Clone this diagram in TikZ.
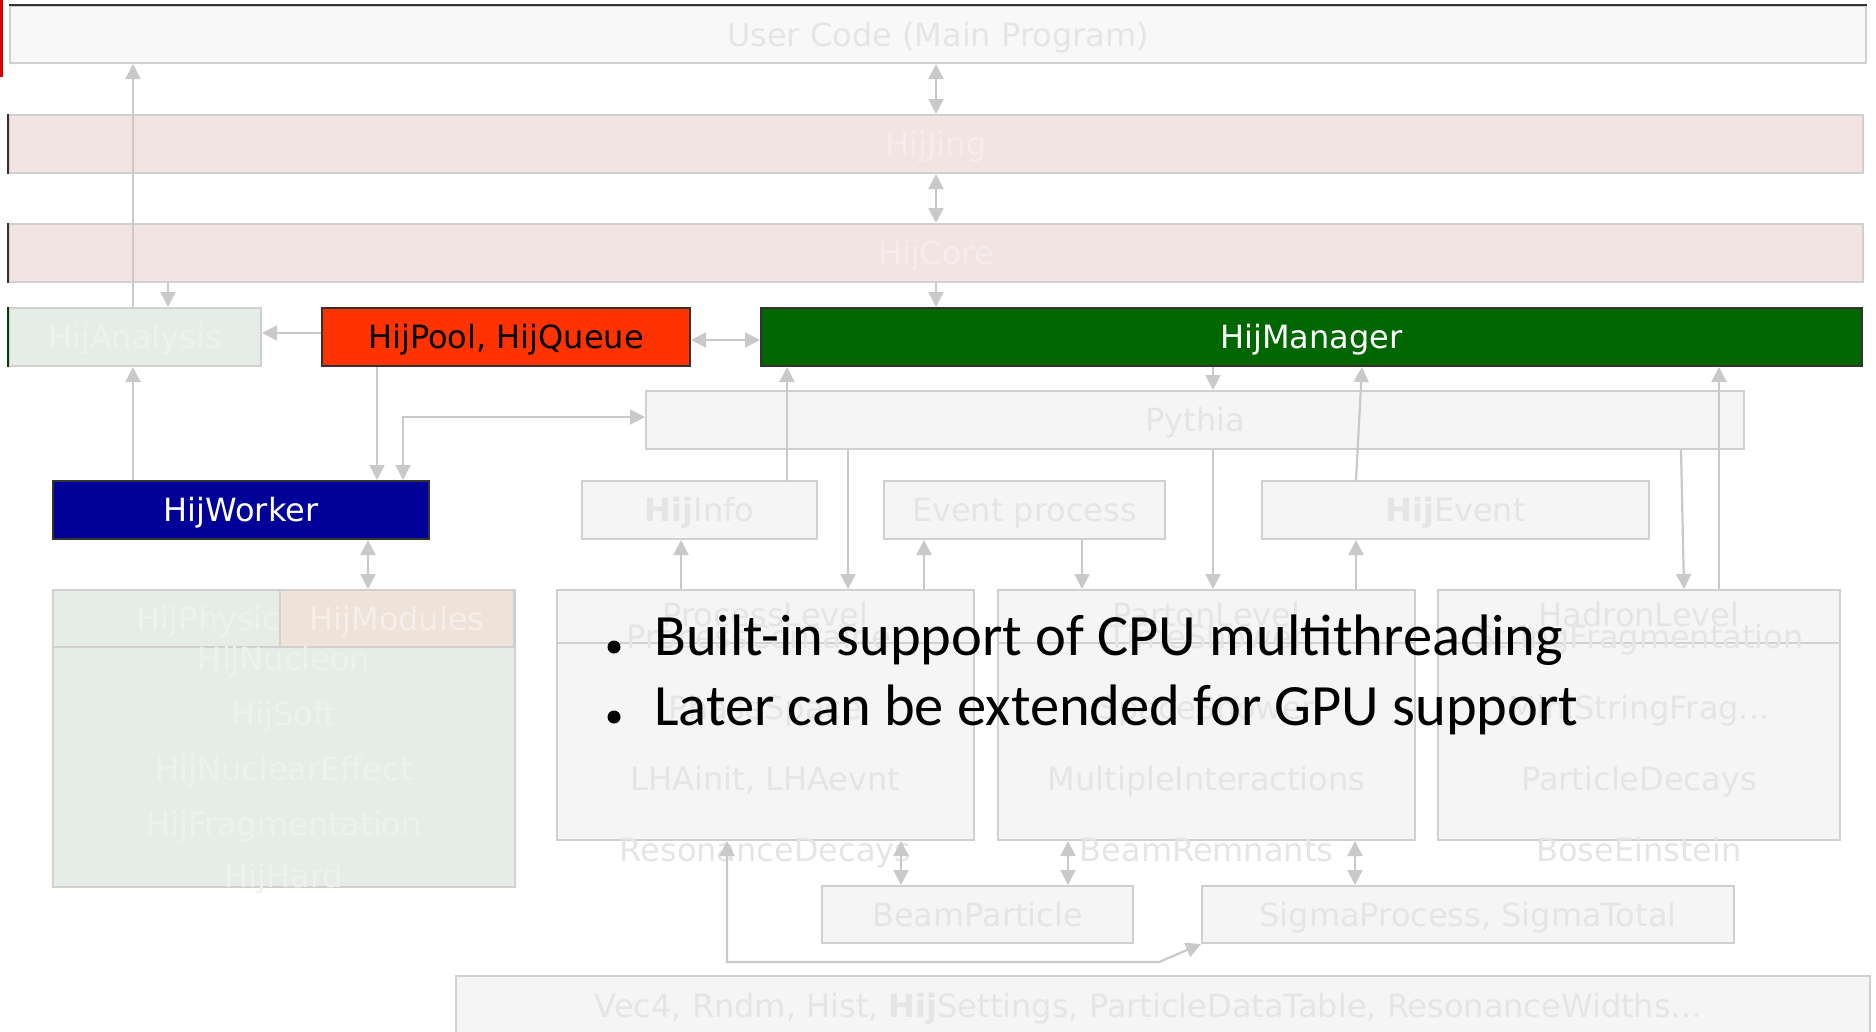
\documentclass[tikz,border=0pt]{standalone}
\usepackage{fontspec}
\setmainfont{DejaVu Sans}
\newfontfamily\calib{Carlito}
\usetikzlibrary{arrows.meta}
\definecolor{bdr}{HTML}{D0D0D0}
\definecolor{fgray}{HTML}{F5F5F5}
\definecolor{fuser}{HTML}{F8F8F8}
\definecolor{tgray}{HTML}{E5E5E5}
\definecolor{fpink}{HTML}{F2E4E3}
\definecolor{tpink}{HTML}{F6ECEB}
\definecolor{fgreen}{HTML}{E5EDE6}
\definecolor{tgreen}{HTML}{ECF2ED}
\definecolor{fpeach}{HTML}{EFE2D9}
\definecolor{tpeach}{HTML}{F6EEE8}
\definecolor{acol}{HTML}{C9C9C9}
\definecolor{dk}{HTML}{333333}
\definecolor{poolred}{HTML}{FF3300}
\definecolor{mgrgreen}{HTML}{006600}
\definecolor{wkblue}{HTML}{000099}
\begin{document}
\begin{tikzpicture}[x=1pt,y=-1pt,
  box/.style={draw=bdr, line width=2pt, inner sep=0pt, text height=23pt, text depth=0pt, font=\fontsize{32}{38}\selectfont},
  fbox/.style={box, fill=fgray, text=tgray},
  dbox/.style={box, draw=dk},
  lbl/.style={inner sep=0pt, anchor=base, font=\fontsize{32}{38}\selectfont, text=tgray},
  arr/.style={draw=acol, line width=2.2pt, -{Triangle[width=15pt,length=15pt]}},
  arr2/.style={draw=acol, line width=2.2pt, {Triangle[width=15pt,length=15pt]}-{Triangle[width=15pt,length=15pt]}},
  bul/.style={inner sep=0pt, font=\calib\fontsize{58.5}{70}\selectfont, text=black}]
\useasboundingbox (0,0) rectangle (1876,1031);
\fill[white] (0,0) rectangle (1876,1031);

% top layers
\node[box, fill=fuser, text=tgray, minimum width=1856pt, minimum height=57pt] (usercode) at (938,34.5) {User Code (Main Program)};
\node[box, fill=fpink, text=tpink, minimum width=1854pt, minimum height=58pt] (hijjing) at (936,144) {HijJing};
\node[box, fill=fpink, text=tpink, minimum width=1854pt, minimum height=58pt] (hijcore) at (936,253) {HijCore};
\node[box, fill=fgreen, text=tgreen, minimum width=252pt, minimum height=58pt] (analysis) at (135,337) {HijAnalysis};
\node[dbox, fill=poolred, text=black, minimum width=368pt, minimum height=58pt] (pool) at (506,337) {HijPool, HijQueue};
\node[dbox, fill=mgrgreen, text=white, minimum width=1101pt, minimum height=58pt] (manager) at (1311.5,337) {HijManager};
\node[fbox, minimum width=1098pt, minimum height=58pt] (pythia) at (1195,420) {Pythia};
\node[dbox, fill=wkblue, text=white, minimum width=376pt, minimum height=58pt] (worker) at (241,510) {HijWorker};
\node[fbox, minimum width=235pt, minimum height=58pt] (info) at (699.5,510) {{\bfseries Hij}Info};
\node[fbox, minimum width=281pt, minimum height=58pt] (event) at (1024.5,510) {Event process};
\node[fbox, minimum width=387pt, minimum height=58pt] (hijevent) at (1455.5,510) {{\bfseries Hij}Event};

% dark partial edges and red mark
\fill[red!85!black] (0,0) rectangle (2.5,77);
\draw[dk, line width=2pt] (usercode.north west) -- (usercode.north east);
\draw[dk, line width=2pt] (hijjing.north west) -- (hijjing.south west);
\draw[dk, line width=2pt] (hijcore.north west) -- (hijcore.south west);
\draw[green!25!black, line width=2pt] (analysis.north west) -- (analysis.south west);

% physics group
\node[box, fill=fgreen, minimum width=462pt, minimum height=297pt] (physgroup) at (284,738.5) {};
\draw[bdr, line width=2pt] (physgroup.west |- 0,647) -- (physgroup.east |- 0,647);
\node[lbl, text=tgreen] (tphys) at (217,630) {HijPhysics};
\node[box, fill=fpeach, text=tpeach, minimum width=234pt, minimum height=57pt] (modules) at (397,618.5) {HijModules};
\node[lbl, text=tgreen] (tnuc) at (284,670) {HijNucleon};
\node[lbl, text=tgreen] (tsoft) at (284,725) {HijSoft};
\node[lbl, text=tgreen] (tnef) at (284,780) {HijNuclearEffect};
\node[lbl, text=tgreen] (tfrag) at (284,835) {HijFragmentation};
\node[lbl, text=tgreen] (thard) at (284,887) {HijHard};

% Pythia levels
\node[fbox, minimum width=417pt, minimum height=250pt] (proclevel) at (765.5,715) {};
\node[fbox, minimum width=417pt, minimum height=250pt] (partlevel) at (1206.5,715) {};
\node[fbox, minimum width=402pt, minimum height=250pt] (hadrlevel) at (1639,715) {};
\foreach \n in {proclevel,partlevel,hadrlevel}
  \draw[bdr, line width=2pt] (\n.west |- 0,643) -- (\n.east |- 0,643);

\node[lbl] (p1) at (765.5,626) {ProcessLevel};
\node[lbl] (p2) at (765.5,648) {ProcessContainer};
\node[lbl] (p3) at (765.5,719) {PhaseSpace};
\node[lbl] (p4) at (765.5,790) {LHAinit, LHAevnt};
\node[lbl] (p5) at (765.5,861) {ResonanceDecays};
\node[lbl] (q1) at (1206.5,626) {PartonLevel};
\node[lbl] (q2) at (1206.5,648) {TimeShower};
\node[lbl] (q3) at (1206.5,719) {SpaceShower};
\node[lbl] (q4) at (1206.5,790) {MultipleInteractions};
\node[lbl] (q5) at (1206.5,861) {BeamRemnants};
\node[lbl] (h1) at (1639,626) {HadronLevel};
\node[lbl] (h2) at (1639,648) {StringFragmentation};
\node[lbl] (h3) at (1639,719) {MiniStringFrag...};
\node[lbl] (h4) at (1639,790) {ParticleDecays};
\node[lbl] (h5) at (1639,861) {BoseEinstein};

\node[fbox, minimum width=311pt, minimum height=57pt] (beam) at (977.5,914.5) {BeamParticle};
\node[fbox, minimum width=532pt, minimum height=57pt] (sigma) at (1468,914.5) {SigmaProcess, SigmaTotal};
\draw[bdr, fill=fgray, line width=2pt] (456,1040) -- (456,976) -- (1870,976) -- (1870,1040);
\node[lbl] (utils) at (1148,1017) {Vec4, Rndm, Hist, {\bfseries Hij}Settings, ParticleDataTable, ResonanceWidths...};

% connectors
\draw[arr] (133,0 |- analysis.north) -- (133,0 |- usercode.south);
\draw[arr2] (936,0 |- usercode.south) -- (936,0 |- hijjing.north);
\draw[arr2] (936,0 |- hijjing.south) -- (936,0 |- hijcore.north);
\draw[arr] (936,0 |- hijcore.south) -- (936,0 |- manager.north);
\draw[arr] (168,0 |- hijcore.south) -- (168,0 |- analysis.north);
\draw[arr] (pool.west |- 0,333) -- (analysis.east |- 0,333);
\draw[arr2] (pool.east |- 0,340) -- (manager.west |- 0,340);
\draw[arr] (377,0 |- pool.south) -- (377,0 |- worker.north);
\draw[arr2] (pythia.west |- 0,417) -| (403,0 |- worker.north);
\draw[arr] (133,0 |- worker.north) -- (133,0 |- analysis.south);
\draw[arr2] (368,0 |- worker.south) -- (368,0 |- physgroup.north);
\draw[arr] (787,0 |- info.north) -- (787,0 |- manager.south);
\draw[arr] (848,0 |- pythia.south) -- (848,0 |- proclevel.north);
\draw[arr] (681,0 |- proclevel.north) -- (681,0 |- info.south);
\draw[arr] (924,0 |- proclevel.north) -- (924,0 |- event.south);
\draw[arr] (1082,0 |- event.south) -- (1082,0 |- partlevel.north);
\draw[arr] (1213,0 |- manager.south) -- (1213,0 |- pythia.north);
\draw[arr] (1213,0 |- pythia.south) -- (1213,0 |- partlevel.north);
\draw[arr] (1356,0 |- hijevent.north) -- (1362,0 |- manager.south);
\draw[arr] (1356,0 |- partlevel.north) -- (1356,0 |- hijevent.south);
\draw[arr] (1681,0 |- pythia.south) -- (1684,0 |- hadrlevel.north);
\draw[arr] (1719,0 |- hadrlevel.north) -- (1719,0 |- manager.south);
\draw[arr2] (901,0 |- proclevel.south) -- (901,0 |- beam.north);
\draw[arr2] (1068,0 |- partlevel.south) -- (1068,0 |- beam.north);
\draw[arr2] (1355,0 |- partlevel.south) -- (1355,0 |- sigma.north);
\coordinate (bend1) at (727,962);
\coordinate (bend2) at (1159,962);
\draw[arr2] (727,0 |- proclevel.south) -- (bend1) -- (bend2) -- (sigma.south west);

% overlay bullets
\node[circle, fill=black, inner sep=0pt, minimum size=13pt] (d1) at (614,647) {};
\node[bul, anchor=base west] (b1) at (654,655) {Built-in support of CPU multithreading};
\node[circle, fill=black, inner sep=0pt, minimum size=13pt] (d2) at (614,717) {};
\node[bul, anchor=base west] (b2) at (654,725) {Later can be extended for GPU support};
\end{tikzpicture}
\end{document}
